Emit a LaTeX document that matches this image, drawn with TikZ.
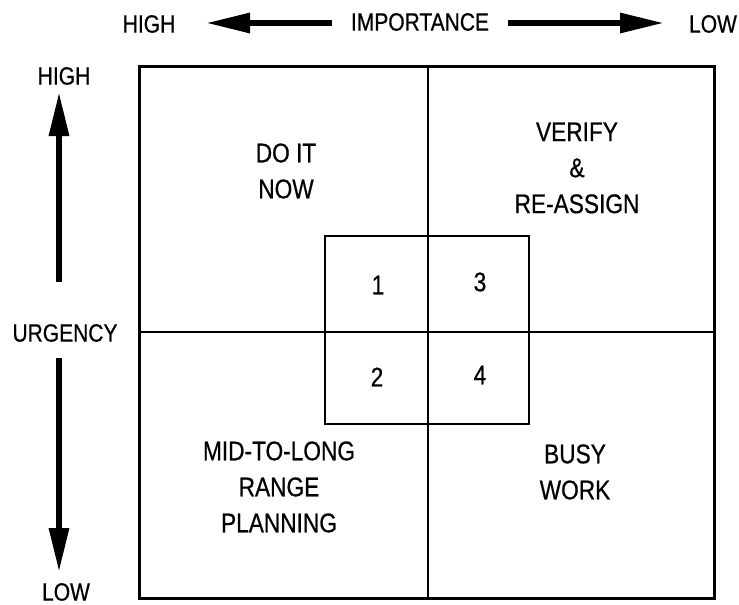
\documentclass[tikz,border=0pt]{standalone}
\usepackage{fontspec}
\setmainfont{Liberation Sans}[FakeStretch=0.84,FakeBold=0.6]
\usetikzlibrary{arrows.meta}
\tikzset{
  axislabel/.style={inner sep=0pt, font=\fontsize{25}{30}\selectfont},
  quadtext/.style={inner sep=0pt, align=center, font=\fontsize{27}{36}\selectfont},
  numtext/.style={inner sep=0pt, font=\fontsize{27}{32}\selectfont},
  bigarrow/.style={line width=6pt, -{Triangle[length=44pt,width=19pt]}},
  frameline/.style={line width=3pt},
  gridline/.style={line width=2.6pt}
}
\begin{document}
\begin{tikzpicture}[x=1pt,y=-1pt]
\useasboundingbox (0,0) rectangle (739,605);
% top axis
\node[axislabel] (thigh) at (149,24) {HIGH};
\node[axislabel] (imp) at (420,22) {IMPORTANCE};
\node[axislabel] (tlow) at (713,24) {LOW};
\coordinate (la0) at (332,23);
\coordinate (la1) at (206,23);
\coordinate (ra0) at (508,23);
\coordinate (ra1) at (664,23);
\draw[bigarrow] (la0) -- (la1);
\draw[bigarrow] (ra0) -- (ra1);
% left axis
\node[axislabel] (lhigh) at (64,76) {HIGH};
\node[axislabel] (urg) at (65,333) {URGENCY};
\node[axislabel] (llow) at (66,592) {LOW};
\coordinate (ua0) at (59,282);
\coordinate (ua1) at (59,92);
\coordinate (da0) at (59,358);
\coordinate (da1) at (59,572);
\draw[bigarrow] (ua0) -- (ua1);
\draw[bigarrow] (da0) -- (da1);
% outer box and dividers
\coordinate (tl) at (139,66);
\coordinate (br) at (714,598);
\coordinate (mt) at (428,66);
\coordinate (mb) at (428,598);
\coordinate (ml) at (139,332);
\coordinate (mr) at (714,332);
\draw[frameline] (tl) rectangle (br);
\draw[gridline] (mt) -- (mb);
\draw[gridline] (ml) -- (mr);
% inner box
\coordinate (itl) at (325,236);
\coordinate (ibr) at (529,424);
\draw[gridline] (itl) rectangle (ibr);
% quadrant texts
\node[quadtext] (q1) at (286,171) {DO IT\\NOW};
\node[quadtext] (q3) at (577,168) {VERIFY\\\&\\RE-ASSIGN};
\node[quadtext] (q2) at (279,487) {MID-TO-LONG\\RANGE\\PLANNING};
\node[quadtext] (q4) at (575,472) {BUSY\\WORK};
% numbers
\node[numtext] (n1) at (378,285) {1};
\node[numtext] (n3) at (480,282) {3};
\node[numtext] (n2) at (377,377) {2};
\node[numtext] (n4) at (480,375) {4};
\end{tikzpicture}
\end{document}
